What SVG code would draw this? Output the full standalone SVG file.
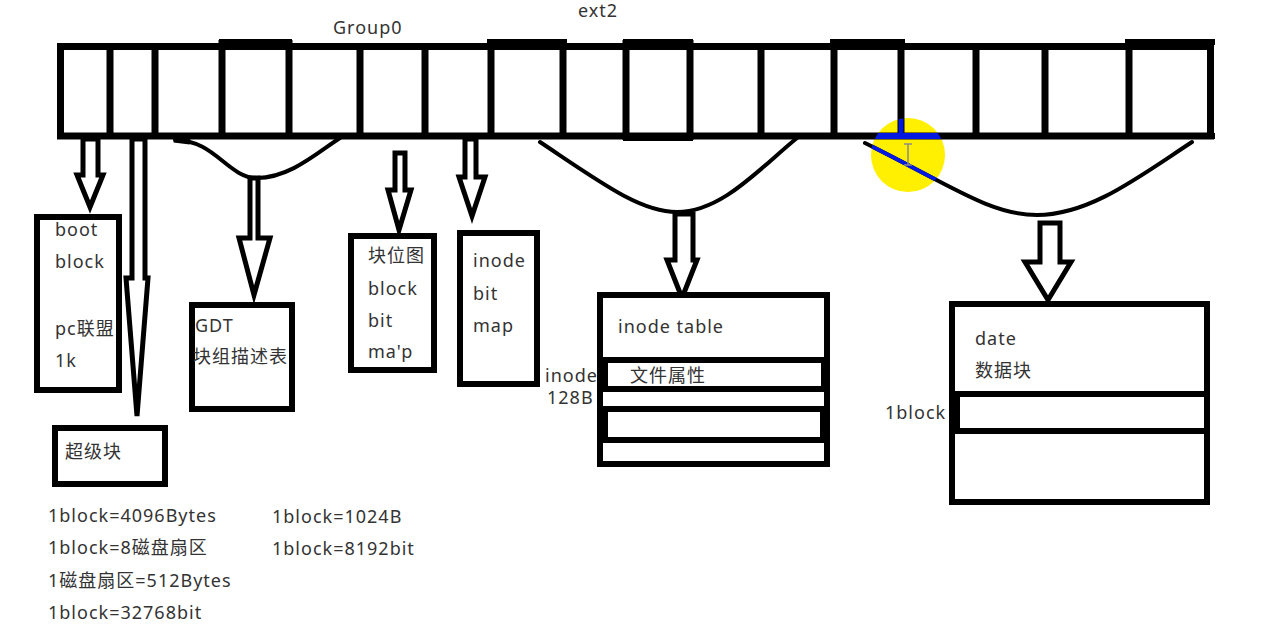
<svg xmlns="http://www.w3.org/2000/svg" width="1273" height="633" viewBox="0 0 1273 633">
<style>
.bar{fill:none;stroke:#000;stroke-width:7}
.div{stroke:#000;stroke-width:7}
.band{fill:#000}
.box{fill:#fff;stroke:#000;stroke-width:6}
.ln{stroke:#000;stroke-width:6}
.arr{fill:#fff;stroke:#000;stroke-width:5;stroke-linejoin:miter}
.cur{fill:none;stroke:#000;stroke-width:4;stroke-linecap:round}
.t{font-family:"Noto Sans","Noto Sans CJK SC",sans-serif;font-size:18px;letter-spacing:1px;fill:#333}
</style>
<defs>
<clipPath id="hl"><circle cx="908" cy="155" r="37"/></clipPath>
</defs>
<rect width="1273" height="633" fill="#fff"/>

<g id="labels">
<text class="t" x="333" y="34">Group0</text>
<text class="t" x="578" y="17">ext2</text>
</g>

<circle id="highlight" cx="908" cy="155" r="37" fill="#ffef00"/>

<g id="group0-bar">
<rect class="bar" x="60.5" y="46.5" width="1150" height="89.5"/>
<g class="div">
<line x1="110" y1="44" x2="110" y2="137"/>
<line x1="155" y1="44" x2="155" y2="137"/>
<line x1="222" y1="40" x2="222" y2="137"/>
<line x1="289" y1="40" x2="289" y2="137"/>
<line x1="360" y1="44" x2="360" y2="137"/>
<line x1="425" y1="44" x2="425" y2="137"/>
<line x1="491" y1="40" x2="491" y2="139"/>
<line x1="563" y1="40" x2="563" y2="139"/>
<line x1="626" y1="40" x2="626" y2="140"/>
<line x1="690" y1="40" x2="690" y2="140"/>
<line x1="761" y1="44" x2="761" y2="137"/>
<line x1="834" y1="40" x2="834" y2="137"/>
<line x1="901" y1="40" x2="901" y2="137"/>
<line x1="976" y1="44" x2="976" y2="137"/>
<line x1="1045" y1="44" x2="1045" y2="137"/>
<line x1="1129" y1="40" x2="1129" y2="139"/>
</g>
<rect class="band" x="219" y="39" width="73" height="6"/>
<rect class="band" x="487" y="39" width="80" height="6"/>
<rect class="band" x="487" y="133" width="80" height="6"/>
<rect class="band" x="623" y="39" width="70" height="6"/>
<rect class="band" x="623" y="134" width="70" height="7"/>
<rect class="band" x="830" y="39" width="75" height="6"/>
<rect class="band" x="1125" y="39" width="90" height="6"/>
<rect class="band" x="1125" y="133" width="90" height="6"/>
</g>

<g id="connectors">
<path class="cur" d="M175,140 C215,140 228,178 257,178 C290,178 318,152 340,138"/>
<path d="M174,139 L190,141" stroke="#000" stroke-width="7"/>
<path class="cur" d="M540,142 C600,182 640,212 677,212 C722,212 760,168 797,138"/>
<path class="cur" d="M865,143 C950,185 990,215 1037,215 C1090,215 1140,176 1192,142"/>
<polygon class="arr" points="83,139 98,139 98,175 103,175 90,207 77,175 83,175"/>
<polygon class="arr" points="132,139 145,139 145,278 148,278 137,416 126,278 132,278"/>
<polygon class="arr" points="250,178 258,178 258,238 270,238 254,295 239,238 250,238"/>
<polygon class="arr" points="395,153 405,153 405,190 411,190 399,230 388,190 395,190"/>
<polygon class="arr" points="465,139 476,139 476,177 485,177 472,216 459,177 465,177"/>
<polygon class="arr" points="675,214 693,214 693,260 697,260 682,298 667,260 675,260"/>
<polygon class="arr" points="1040,223 1060,223 1060,262 1071,262 1048,300 1025,262 1040,262"/>
</g>

<g id="highlight-overlay" clip-path="url(#hl)">
<line x1="860" y1="136" x2="960" y2="136" stroke="#0018e0" stroke-width="6"/>
<line x1="901" y1="100" x2="901" y2="136" stroke="#0018e0" stroke-width="5"/>
<path d="M865,143 C950,185 990,215 1037,215" fill="none" stroke="#0018e0" stroke-width="4"/>
<path d="M904,144 H912 M908,144 V165 M904,165 H912" fill="none" stroke="#8a8a8a" stroke-width="1.5"/>
</g>

<g id="boot-block">
<rect class="box" x="37" y="217" width="82" height="173"/>
<text class="t" x="55" y="236">boot</text>
<text class="t" x="55" y="268">block</text>
<text class="t" x="55" y="335">pc联盟</text>
<text class="t" x="55" y="367" fill="#223355">1k</text>
</g>

<g id="super-block">
<rect class="box" x="55" y="428" width="110" height="56"/>
<text class="t" x="65" y="458">超级块</text>
</g>

<g id="gdt">
<rect class="box" x="192" y="305" width="100" height="104"/>
<text class="t" x="195" y="332">GDT</text>
<text class="t" x="193" y="363">块组描述表</text>
</g>

<g id="block-bitmap">
<rect class="box" x="351" y="236" width="83" height="134"/>
<text class="t" x="368" y="262">块位图</text>
<text class="t" x="368" y="295">block</text>
<text class="t" x="368" y="327">bit</text>
<text class="t" x="368" y="358">ma'p</text>
</g>

<g id="inode-bitmap">
<rect class="box" x="460" y="233" width="77" height="151"/>
<text class="t" x="473" y="267">inode</text>
<text class="t" x="473" y="300">bit</text>
<text class="t" x="473" y="332">map</text>
</g>

<g id="inode-table">
<rect class="box" x="600" y="295" width="227" height="169"/>
<line class="ln" x1="600" y1="360" x2="827" y2="360"/>
<rect class="box" x="605" y="360" width="219" height="29"/>
<line class="ln" x1="600" y1="409" x2="827" y2="409"/>
<rect class="box" x="605" y="409" width="218" height="31"/>
<text class="t" x="618" y="333">inode table</text>
<text class="t" x="630" y="382">文件属性</text>
<text class="t" x="545" y="382">inode</text>
<text class="t" x="547" y="404">128B</text>
</g>

<g id="data-block">
<rect class="box" x="952" y="304" width="255" height="198"/>
<line class="ln" x1="952" y1="394" x2="1207" y2="394"/>
<line class="ln" x1="952" y1="431" x2="1207" y2="431"/>
<rect class="band" x="950" y="394" width="10" height="37"/>
<text class="t" x="975" y="345">date</text>
<text class="t" x="975" y="377">数据块</text>
<text class="t" x="885" y="419">1block</text>
</g>

<g id="notes">
<text class="t" x="48" y="522">1block=4096Bytes</text>
<text class="t" x="48" y="554">1block=8磁盘扇区</text>
<text class="t" x="48" y="587">1磁盘扇区=512Bytes</text>
<text class="t" x="48" y="619">1block=32768bit</text>
<text class="t" x="272" y="523">1block=1024B</text>
<text class="t" x="272" y="555">1block=8192bit</text>
</g>
</svg>
